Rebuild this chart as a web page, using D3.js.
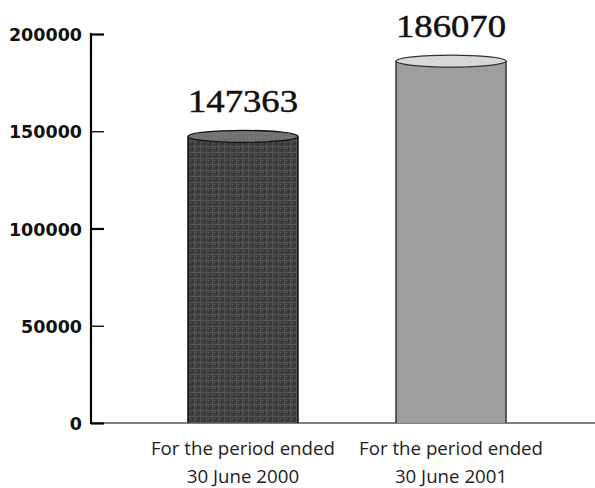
<!DOCTYPE html>
<html><head><meta charset="utf-8">
<script src="https://cdn.jsdelivr.net/npm/d3@7"></script>
<style>html,body{margin:0;padding:0;background:#fff;}svg{display:block;}</style>
</head><body>
<svg id="c" width="595" height="488"></svg>
<script>
const categoriesLine1 = ["For the period ended", "For the period ended"];
const categoriesLine2 = ["30 June 2000", "30 June 2001"];
const categoryKeys = ["2000", "2001"];
const values = [147363, 186070];
const valueLabels = ["147363", "186070"];
const yTicks = [0, 50000, 100000, 150000, 200000];
const yTickLabels = ["0", "50000", "100000", "150000", "200000"];

const svg = d3.select("#c");
const y = d3.scaleLinear().domain([0, 200000]).range([423, 34]);
const x = d3.scaleBand().domain(categoryKeys).range([91, 603]).paddingInner(0.4712).paddingOuter(0.466);

const defs = svg.append("defs");
const pat = defs.append("pattern").attr("id", "tex").attr("patternUnits", "userSpaceOnUse").attr("width", 6).attr("height", 6);
pat.append("rect").attr("width", 6).attr("height", 6).attr("fill", "#3c3c3c");
pat.append("rect").attr("x", 0).attr("y", 2).attr("width", 6).attr("height", 1).attr("fill", "#555");
pat.append("rect").attr("x", 2).attr("y", 0).attr("width", 1).attr("height", 6).attr("fill", "#555");
pat.append("rect").attr("x", 4).attr("y", 4).attr("width", 1).attr("height", 1).attr("fill", "#666");
pat.append("rect").attr("x", 0).attr("y", 5).attr("width", 1).attr("height", 1).attr("fill", "#2a2a2a");
const pat2 = defs.append("pattern").attr("id", "tex2").attr("patternUnits", "userSpaceOnUse").attr("width", 4).attr("height", 4);
pat2.append("rect").attr("width", 4).attr("height", 4).attr("fill", "#727272");
pat2.append("rect").attr("x", 1).attr("y", 1).attr("width", 1).attr("height", 1).attr("fill", "#8c8c8c");

const bodyFill = ["url(#tex)", "#9e9e9e"];
const topFill = ["url(#tex2)", "#d7d7d7"];
const outline = ["#111", "#333"];

// baseline
svg.append("line").attr("x1", 91).attr("x2", 595).attr("y1", y(0)).attr("y2", y(0))
  .attr("stroke", "#555").attr("stroke-width", 1.6);

// bars
const ry = 6;
categoryKeys.forEach((k, i) => {
  const x0 = x(k), w = x.bandwidth(), yv = y(values[i]);
  svg.append("rect").attr("x", x0).attr("y", yv).attr("width", w).attr("height", y(0) - yv)
    .attr("fill", bodyFill[i]);
  svg.append("line").attr("x1", x0).attr("x2", x0).attr("y1", yv).attr("y2", y(0)).attr("stroke", outline[i]).attr("stroke-width", 1.5);
  svg.append("line").attr("x1", x0 + w).attr("x2", x0 + w).attr("y1", yv).attr("y2", y(0)).attr("stroke", outline[i]).attr("stroke-width", 1.5);
  svg.append("ellipse").attr("cx", x0 + w / 2).attr("cy", yv).attr("rx", w / 2).attr("ry", ry)
    .attr("fill", topFill[i]).attr("stroke", outline[i]).attr("stroke-width", 1.3);
  svg.append("text").attr("x", x0 + w / 2).attr("y", yv - ry - 18)
    .attr("text-anchor", "middle").attr("font-family", "Liberation Serif, serif").attr("font-size", 31)
    .attr("textLength", 110).attr("lengthAdjust", "spacingAndGlyphs").attr("fill", "#111")
    .attr("stroke", "#111").attr("stroke-width", 0.5)
    .text(valueLabels[i]);
  svg.append("text").attr("x", x0 + w / 2).attr("y", 455)
    .attr("text-anchor", "middle").attr("font-family", "Open Sans, sans-serif").attr("font-size", 18.7)
    .attr("fill", "#222").text(categoriesLine1[i]);
  svg.append("text").attr("x", x0 + w / 2).attr("y", 483)
    .attr("text-anchor", "middle").attr("font-family", "Open Sans, sans-serif").attr("font-size", 18.7)
    .attr("fill", "#222").text(categoriesLine2[i]);
});

// y axis
const yAxis = d3.axisLeft(y).tickValues(yTicks).tickSize(-13).tickPadding(0).tickFormat(() => "");
const ga = svg.append("g").attr("transform", "translate(91,0)").call(yAxis);
ga.select(".domain").remove();
ga.selectAll(".tick line").attr("stroke", "#000").attr("stroke-width", (d) => (d % 100000 === 0 ? 2.2 : 1.3));
svg.append("line").attr("x1", 91).attr("x2", 91).attr("y1", y(200000) - 1).attr("y2", y(0) + 1)
  .attr("stroke", "#000").attr("stroke-width", 2.2);
yTicks.forEach((t, i) => {
  svg.append("text").attr("x", 82).attr("y", y(t) + 7).attr("text-anchor", "end")
    .attr("font-family", "DejaVu Sans, sans-serif").attr("font-weight", "bold").attr("font-size", 17.5)
    .attr("fill", "#111").text(yTickLabels[i]);
});
</script>
</body></html>
